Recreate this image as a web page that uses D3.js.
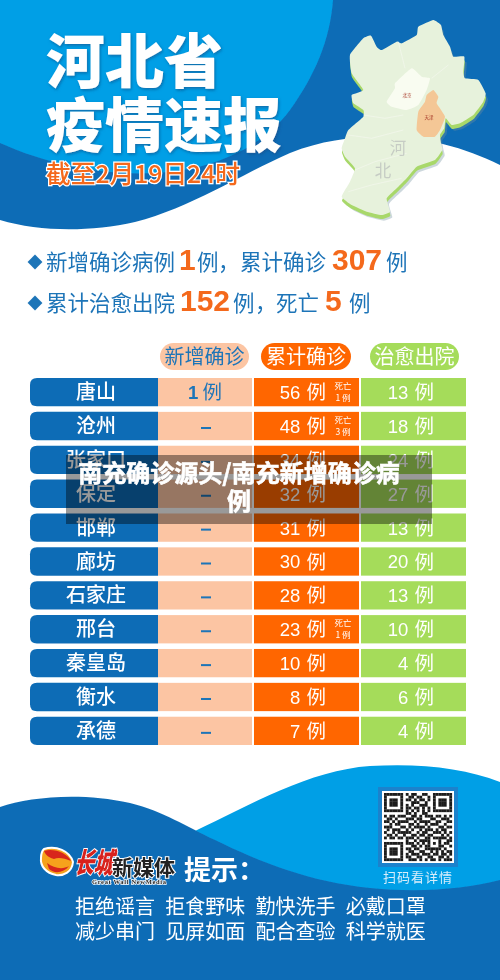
<!DOCTYPE html>
<html><head><meta charset="utf-8">
<script src="https://cdn.jsdelivr.net/npm/d3@7"></script>
<style>
html,body{margin:0;padding:0;background:#fff;overflow:hidden}
text{font-family:"Noto Sans CJK SC","Noto Sans",sans-serif}
.num{font-family:"Liberation Sans","Noto Sans CJK SC",sans-serif}
</style></head><body><div id="c"></div>
<script>
// ---------- data ----------
const cities   = ["唐山","沧州","张家口","保定","邯郸","廊坊","石家庄","邢台","秦皇岛","衡水","承德"];
const newCases = [1,0,0,0,0,0,0,0,0,0,0];
const totalCases = [56,48,34,32,31,30,28,23,10,8,7];
const curedCases = [13,18,24,27,13,20,13,10,4,6,4];
const deaths   = [1,3,0,0,0,0,0,1,0,0,0];
const columns  = ["city","new","total","cured"];
const headers  = ["新增确诊","累计确诊","治愈出院"];
const tips = [["拒绝谣言","拒食野味","勤快洗手","必戴口罩"],["减少串门","见屏如面","配合查验","科学就医"]];
const qrRows = [
"1111111010110011001111111","1000001001101100101000001","1011101011010110101011101","1011101000111001001011101",
"1011101010100111001011101","1000001011011010101000001","1111111010101010101111111","0000000011010011000000000",
"1011011100110101110110101","0110100011101100011001110","1101011110010111100110011","0010110001101001011100100",
"1110001101011110100011011","0101110010100101110101100","1001011111001011001110101","0110100100110110110001010",
"1011011011101001101111101","0000000010010111100010011","1111111011101010101010110","1000001000110101100011001",
"1011101011011001111110100","1011101001100110010101011","1011101010111011101101101","1000001011001100110011010",
"1111111001110101011010111"];
// ---------- setup ----------
const W=500,H=980;
const svg=d3.select("#c").append("svg").attr("width",W).attr("height",H).attr("viewBox",[0,0,W,H]).style("display","block");
const defs=svg.append("defs");
defs.append("filter").attr("id","soft").attr("x","-5%").attr("y","-5%").attr("width","110%").attr("height","110%")
  .append("feGaussianBlur").attr("stdDeviation",0.4);
const shadow=defs.append("filter").attr("id","sh").attr("x","-20%").attr("y","-20%").attr("width","140%").attr("height","140%");
shadow.append("feDropShadow").attr("dx",1).attr("dy",1.5).attr("stdDeviation",1.5).attr("flood-color","#0b4a80").attr("flood-opacity",0.6);
const root=svg.append("g").attr("filter","url(#soft)");
const BLUE="#0f6cb6",SKY="#049fe6",ORANGE="#ff6600",PEACH="#fcc5a3",GREEN="#a5dc5a",TXT="#1e74b8",NUMO="#f4691c";

// ---------- top background ----------
root.append("rect").attr("width",W).attr("height",240).attr("fill",BLUE);
root.append("path").attr("fill",SKY).attr("d",
  "M0,0L333,0C330,40 315,75 290,110C268,140 232,160 190,169C130,180 60,170 0,143Z");
root.append("path").attr("fill","#fff").attr("d",
  "M0,220C40,232 90,232 135,222C190,208 240,175 290,153C320,141 350,137 380,136C425,136 465,148 500,165L500,260L0,260Z");

// ---------- map ----------
const hebei=[[295,15],[318,30],[325,60],[345,95],[355,125],[388,125],[385,170],[390,190],[430,195],[452,235],[445,260],[415,300],[375,325],[350,330],[332,310],[328,340],[315,360],[318,385],[322,405],[300,435],[245,455],[215,490],[190,515],[155,550],[165,590],[140,600],[95,590],[50,570],[20,545],[45,500],[60,460],[30,425],[20,400],[30,370],[40,345],[85,305],[85,285],[55,265],[50,240],[85,225],[50,175],[45,120],[85,70],[108,62],[125,95],[140,105],[185,80],[200,85],[245,60],[250,35]];
const bj=[[230,160],[260,185],[285,190],[275,225],[250,270],[215,285],[170,275],[155,260],[180,220],[180,205]];
const tj=[[295,225],[310,245],[305,265],[330,305],[315,345],[300,365],[265,365],[245,345],[250,290],[270,260],[275,240]];
const poly=d3.line().curve(d3.curveCardinalClosed.tension(.6));
const mapG=root.append("g").attr("transform","translate(335,15) scale(0.3333)");
mapG.append("path").attr("d",poly(hebei)).attr("fill","#6f8f9f").attr("fill-opacity",.35).attr("transform","translate(7,17)");
mapG.append("path").attr("d",poly(hebei)).attr("fill","#a8d86a").attr("transform","translate(1,12)");
mapG.append("path").attr("d",poly(hebei)).attr("fill","#e7f2dc");
["M85,300L150,310L205,300","M40,360L110,370L205,345","M60,465L120,440L215,415","M190,80L210,160","M340,150L290,190","M40,530L110,510L200,490"].forEach(d=>
  mapG.append("path").attr("d",d).attr("fill","none").attr("stroke","#f4f8ee").attr("stroke-width",2));
mapG.append("path").attr("d",poly(bj)).attr("fill","#f9fcf1");
mapG.append("path").attr("d",poly(tj)).attr("fill","#f4c796");
[["河",398,154],["北",383,177]].forEach(([t,x,y])=>root.append("text").attr("x",x).attr("y",y).attr("text-anchor","middle").attr("font-size",16.5).attr("fill","#c6ccc4").text(t));
[["北京",407,97],["天津",429,119]].forEach(([t,x,y])=>root.append("text").attr("x",x).attr("y",y).attr("text-anchor","middle").attr("font-size",4.5).attr("fill","#a83a2a").text(t));

// ---------- title ----------
const title=(t,y)=>root.append("text").attr("x",46).attr("y",y).attr("font-size",59).attr("font-weight",900).attr("fill","#fff").attr("filter","url(#sh)").text(t);
title("河北省",83);title("疫情速报",147);
root.append("text").attr("x",46).attr("y",183).attr("font-size",24.5).attr("font-weight",500).attr("fill",NUMO)
  .attr("stroke","#fff").attr("stroke-width",2.4).attr("paint-order","stroke").attr("textLength",194).attr("lengthAdjust","spacingAndGlyphs").text("截至2月19日24时");

// ---------- summary ----------
[262,303].forEach(y=>root.append("path").attr("d",d3.symbol().type(d3.symbolSquare).size(110)()).attr("fill",TXT).attr("transform",`translate(35,${y}) rotate(45)`));
const sumText=(t,x,y,w)=>root.append("text").attr("x",x).attr("y",y).attr("font-size",21.5).attr("fill",TXT).attr("textLength",w).text(t);
const sumNum=(t,x,y)=>root.append("text").attr("class","num").attr("x",x).attr("y",y).attr("font-size",30).attr("font-weight",700).attr("fill",NUMO).text(t);
const totalAll=d3.sum(totalCases),curedAll=d3.sum(curedCases),deadAll=d3.sum(deaths),newAll=d3.sum(newCases);
sumText("新增确诊病例",46,270,129);sumNum(newAll,179,270);sumText("例",197,270,21);sumText("，",218,270,21);
sumText("累计确诊",240,270,86);sumNum(totalAll,332,270);sumText("例",386,270,21);
sumText("累计治愈出院",46,311,129);sumNum(curedAll,180,311);sumText("例",233,311,21);sumText("，",255,311,21);
sumText("死亡",276,311,43);sumNum(deadAll,325,311);sumText("例",349,311,21);

// ---------- table ----------
const colEdges={city:[30,158],new:[158,252],total:[254,359],cured:[361,466]};
const y=d3.scaleBand().domain(cities).range([378,745]).paddingInner(0.165).paddingOuter(0);
const colX=d3.scaleOrdinal().domain(columns).range(columns.map(c=>colEdges[c][0]));
const colW=d3.scaleOrdinal().domain(columns).range(columns.map(c=>colEdges[c][1]-colEdges[c][0]));
const colFill=d3.scaleOrdinal().domain(columns).range([BLUE,PEACH,ORANGE,GREEN]);

const pills=[[160,89,PEACH,TXT],[261,90,ORANGE,"#fff"],[370,89,GREEN,"#fff"]];
headers.forEach((h,i)=>{
  const [x,w,f,c]=pills[i];
  root.append("rect").attr("x",x).attr("y",343).attr("width",w).attr("height",27).attr("rx",13.5).attr("fill",f);
  root.append("text").attr("x",x+w/2).attr("y",364).attr("text-anchor","middle").attr("font-size",20).attr("fill",c).text(h);
});
const rows=root.selectAll(".row").data(cities).join("g").attr("class","row").attr("transform",d=>`translate(0,${y(d)})`);
const bh=y.bandwidth(),cy=bh/2;
rows.append("path").attr("fill",colFill("city")).attr("d",()=>{
  const x0=colX("city"),x1=x0+colW("city"),r=7;
  return `M${x1},0H${x0+r}Q${x0},0 ${x0},${r}V${bh-r}Q${x0},${bh} ${x0+r},${bh}H${x1}Z`;});
["new","total","cured"].forEach(c=>rows.append("rect").attr("x",colX(c)).attr("width",colW(c)).attr("height",bh).attr("fill",colFill(c)));
rows.append("text").attr("x",96).attr("y",cy+7).attr("text-anchor","middle").attr("font-size",20).attr("font-weight",500).attr("fill","#fff").text(d=>d);
const cell=(sel,x,anchor,fill,get)=>{
  const t=sel.append("text").attr("x",x).attr("y",cy+7).attr("text-anchor",anchor).attr("fill",fill).attr("font-size",19.5);
  t.append("tspan").attr("class","num").attr("font-size",18.5).text((d,i)=>get(i)+" ");
  t.append("tspan").attr("dx",1).text("例");
};
cell(rows,326,"end","#fff",i=>totalCases[i]);
cell(rows,434,"end","#fff",i=>curedCases[i]);
rows.each(function(d,i){
  const g=d3.select(this);
  if(newCases[i]>0){
    const t=g.append("text").attr("x",205).attr("y",cy+7).attr("text-anchor","middle").attr("fill",TXT).attr("font-size",19.5);
    t.append("tspan").attr("class","num").attr("font-size",18.5).attr("font-weight",700).text(newCases[i]);
    t.append("tspan").attr("dx",4).text("例");
  } else {
    g.append("rect").attr("x",201).attr("y",cy+1).attr("width",10).attr("height",2).attr("fill",TXT);
  }
  if(deaths[i]>0){
    g.append("text").attr("x",343).attr("y",cy-3).attr("text-anchor","middle").attr("font-size",8.5).attr("fill","#fff").text("死亡");
    g.append("text").attr("x",343).attr("y",cy+9).attr("text-anchor","middle").attr("font-size",8.5).attr("fill","#fff").text(deaths[i]+" 例");
  }
});

// ---------- bottom ----------
root.append("path").attr("fill",SKY).attr("d","M195,831C250,805 310,770 370,766C420,763 465,768 500,782L500,900L195,900Z");
root.append("path").attr("fill",BLUE).attr("d","M0,807C30,797 80,792 130,803C165,812 185,826 215,840C260,862 310,882 370,888C420,893 465,889 500,880L500,980L0,980Z");
root.append("rect").attr("x",378).attr("y",787).attr("width",80).attr("height",80).attr("fill","#1a82cc");
root.append("rect").attr("x",382).attr("y",791).attr("width",72).attr("height",72).attr("fill","#fff");
const qx=d3.scaleBand().domain(d3.range(25)).range([384,452]);
const qy=d3.scaleBand().domain(d3.range(25)).range([793,861]);
const cells=qrRows.flatMap((r,j)=>[...r].map((v,i)=>({i,j,v}))).filter(d=>d.v==="1");
root.append("g").selectAll("rect").data(cells).join("rect").attr("x",d=>qx(d.i)).attr("y",d=>qy(d.j)).attr("width",qx.bandwidth()+.1).attr("height",qy.bandwidth()+.1).attr("fill","#1a1a1a");
root.append("text").attr("x",418).attr("y",882).attr("text-anchor","middle").attr("font-size",13).attr("letter-spacing",1).attr("fill","#d8eefb").text("扫码看详情");
// logo
const logo=root.append("g");
logo.append("path").attr("d","M44,849C56,845 70,851 73,862C72,872 64,876 56,875C46,873 40,866 41,858C41,854 42,851 44,849Z").attr("fill","#f6a21e").attr("stroke","#fff").attr("stroke-width",2);
logo.append("path").attr("d","M44,851C54,848 67,853 71,861C64,858 58,857 54,859C50,858 46,856 44,851Z").attr("fill","#d8261c");
logo.append("path").attr("d","M47,863C54,868 62,870 69,866C64,873 54,874 49,869Z").attr("fill","#d8261c");
logo.append("text").attr("font-size",19.5).attr("font-weight",900).attr("fill","#d8201c").attr("stroke","#fff").attr("stroke-width",1.4).attr("paint-order","stroke")
  .attr("transform","translate(74,873) skewX(-14) scale(1,1.45)").text("长城");
logo.append("text").attr("x",112).attr("y",875).attr("font-size",21).attr("font-weight",700).attr("fill","#222").attr("stroke","#fff").attr("stroke-width",2).attr("paint-order","stroke").text("新媒体");
logo.append("text").attr("x",92).attr("y",884).attr("font-size",6.5).attr("font-weight",700).attr("letter-spacing",.65).attr("fill","#222").attr("stroke","#fff").attr("stroke-width",1.4).attr("paint-order","stroke").style("font-family","Liberation Serif").text("Great Wall NewMedia");
root.append("text").attr("x",184).attr("y",880).attr("font-size",27).attr("font-weight",700).attr("fill","#fff").text("提示：");
// tips
const tx=d3.scaleBand().domain(d3.range(4)).range([75,436]);
const ty=d3.scaleBand().domain(d3.range(2)).range([895,945]);
tips.forEach((r,j)=>r.forEach((t,i)=>root.append("text").attr("x",tx(i)).attr("y",ty(j)+19).attr("font-size",20).attr("fill","#fff").text(t)));

// ---------- overlay ----------
svg.append("rect").attr("x",66).attr("y",455).attr("width",366).attr("height",69).attr("fill","#000").attr("fill-opacity",.4);
[["南充确诊源头/南充新增确诊病",482],["例",510]].forEach(([t,yy])=>
  svg.append("text").attr("x",239).attr("y",yy).attr("text-anchor","middle").attr("font-size",24).attr("font-weight",700).attr("fill","#fff").attr("stroke","#fff").attr("stroke-width",.6).text(t));
</script></body></html>
